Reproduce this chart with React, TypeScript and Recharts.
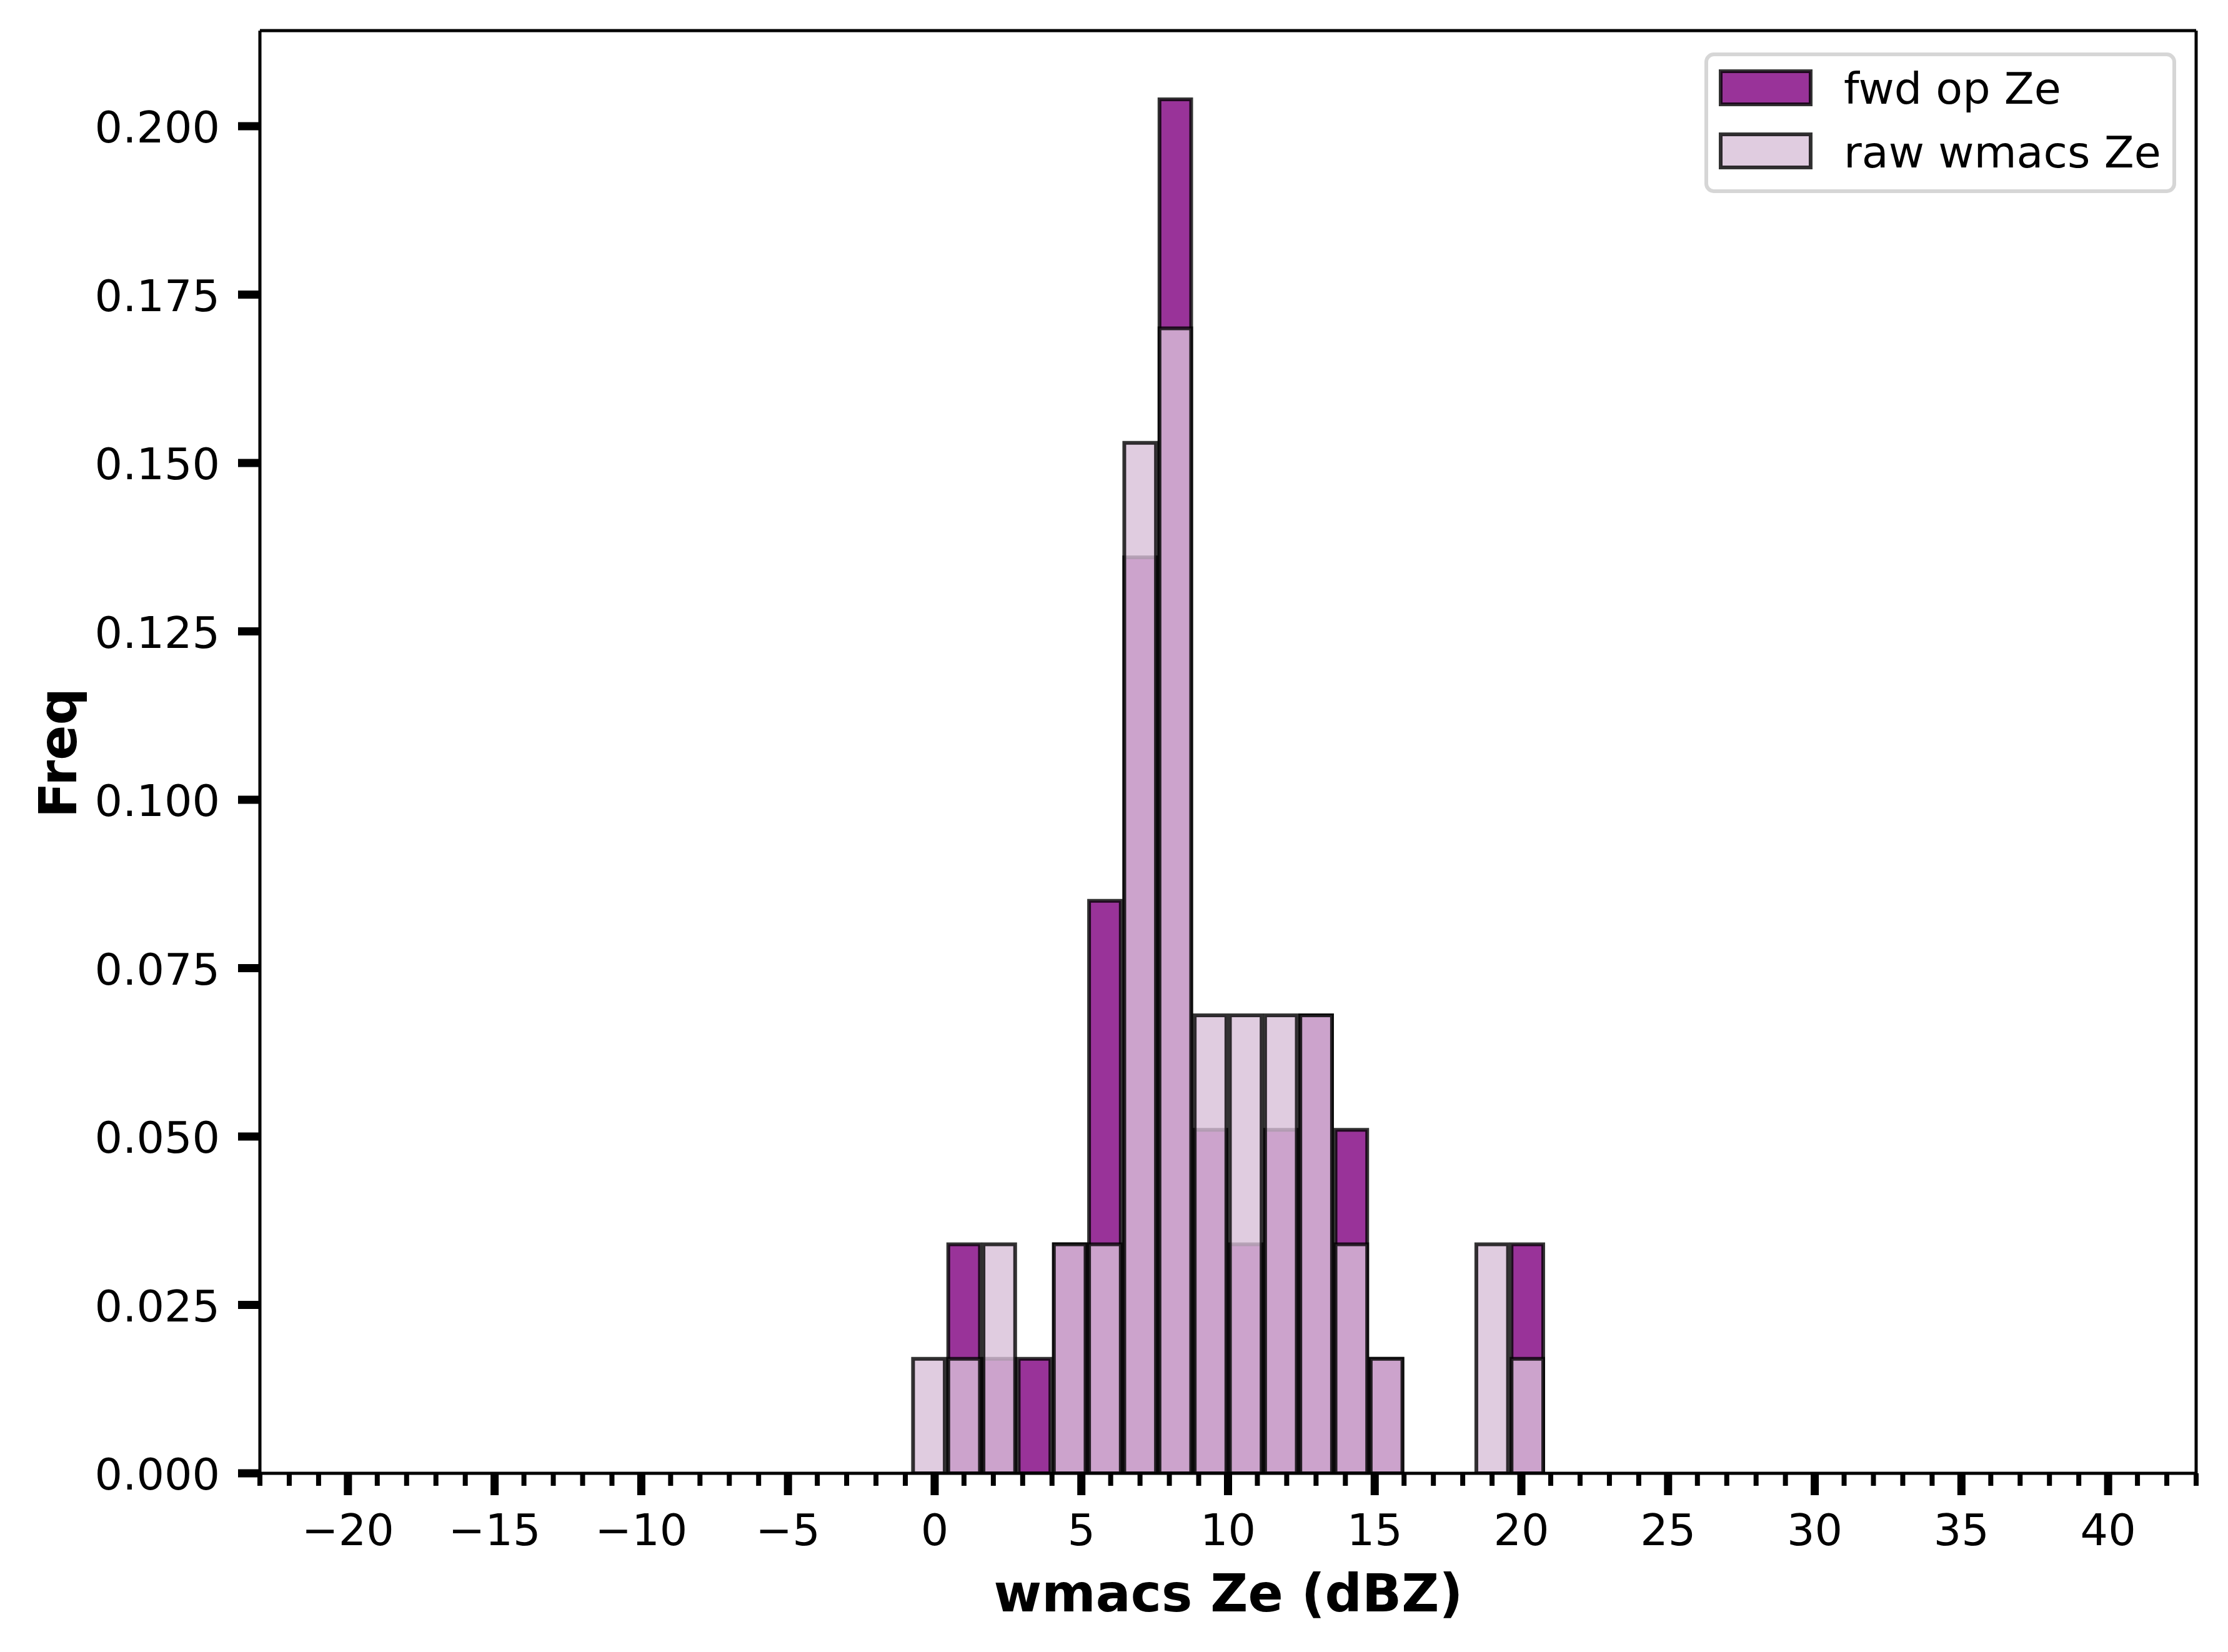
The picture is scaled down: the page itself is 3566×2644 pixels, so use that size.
import { BarChart, Bar, XAxis, YAxis, Legend, Label, ReferenceLine } from "recharts"

// histogram bins (centre of each 1.2 dBZ bin) and normalised frequencies
const BIN_CENTERS = [-0.2, 1.0, 2.2, 3.4, 4.6, 5.8, 7.0, 8.2, 9.4, 10.6, 11.8, 13.0, 14.2, 15.4, 16.6, 17.8, 19.0, 20.2]
const FWD_OP_ZE = [0, 0.034, 0.017, 0.017, 0.034, 0.085, 0.136, 0.204, 0.051, 0.034, 0.051, 0.068, 0.051, 0.017, 0, 0, 0, 0.034]
const RAW_WMACS_ZE = [0.017, 0.017, 0.034, 0, 0.034, 0.034, 0.153, 0.17, 0.068, 0.068, 0.068, 0.068, 0.034, 0.017, 0, 0, 0.034, 0.017]

const X_MAJOR_TICKS = [-20, -15, -10, -5, 0, 5, 10, 15, 20, 25, 30, 35, 40]
const Y_TICKS = [0, 0.025, 0.05, 0.075, 0.1, 0.125, 0.15, 0.175, 0.2]
const X_DOMAIN: [number, number] = [-23, 43]
const Y_DOMAIN: [number, number] = [0, 0.2142]
const BIN_WIDTH = 1.2

const FWD_COLOR = "purple"
const RAW_COLOR = "thistle"
const FONT = "DejaVu Sans"
const EDGE = 6

const W = 3550
const H = 2628
const MARGIN = { top: 41, right: 43, bottom: 0, left: 0 }
const Y_AXIS_W = 408
const X_AXIS_H = 278
const PLOT_W = W - MARGIN.left - MARGIN.right - Y_AXIS_W

const data = BIN_CENTERS.map((x, i) => ({ x, fwd: FWD_OP_ZE[i], raw: RAW_WMACS_ZE[i] }))

const minorTicks: number[] = []
for (let v = X_DOMAIN[0]; v <= X_DOMAIN[1]; v++) minorTicks.push(v)

const fmtX = (v: number) => (v < 0 ? "\u2212" + Math.abs(v) : String(v))

function XTick({ x, y, payload }: any) {
  const v = payload.value
  const major = X_MAJOR_TICKS.includes(v)
  return (
    <g>
      <line x1={x} x2={x} y1={y} y2={y + (major ? 35 : 20)} stroke="#000" strokeWidth={major ? 13 : 8} />
      {major && (
        <text x={x} y={y + 115} textAnchor="middle" fontSize={70} fontFamily={FONT} fill="#000">
          {fmtX(v)}
        </text>
      )}
    </g>
  )
}

function YTick({ x, y, payload }: any) {
  return (
    <g>
      <line x1={x - 35} x2={x} y1={y} y2={y} stroke="#000" strokeWidth={13} />
      <text x={x - 64} y={y} dy={26} textAnchor="end" fontSize={70} fontFamily={FONT} fill="#000">
        {Number(payload.value).toFixed(3)}
      </text>
    </g>
  )
}

function LegendBox({ payload }: any) {
  const fills: Record<string, string> = { fwd: FWD_COLOR, raw: RAW_COLOR }
  return (
    <svg width={755} height={225} style={{ display: "block" }}>
      <rect x={3} y={3} width={749} height={219} rx={12} fill="#fff" fillOpacity={0.8} stroke="#d6d6d6" strokeWidth={6} />
      {(payload || []).map((p: any, i: number) => (
        <g key={p.value}>
          <rect
            x={26}
            y={30 + i * 101}
            width={144}
            height={53}
            fill={fills[p.dataKey] || p.color}
            fillOpacity={0.8}
            stroke="#000"
            strokeOpacity={0.8}
            strokeWidth={EDGE}
          />
          <text x={223} y={82 + i * 102} fontSize={70} fontFamily={FONT} fill="#000">
            {p.value}
          </text>
        </g>
      ))}
    </svg>
  )
}

export default function App() {
  const barSize = (PLOT_W * BIN_WIDTH) / (X_DOMAIN[1] - X_DOMAIN[0])
  return (
    <div style={{ width: W, height: H, fontFamily: FONT }}>
      <BarChart width={W} height={H} data={data} margin={MARGIN} barGap={0} barCategoryGap={0}>
        <Bar
          dataKey="fwd"
          name="fwd op Ze"
          xAxisId="bottom"
          fill={FWD_COLOR}
          fillOpacity={0.8}
          stroke="#000"
          strokeOpacity={0.8}
          strokeWidth={EDGE}
          barSize={barSize}
          isAnimationActive={false}
        />
        <Bar
          dataKey="raw"
          name="raw wmacs Ze"
          xAxisId="top"
          fill={RAW_COLOR}
          fillOpacity={0.8}
          stroke="#000"
          strokeOpacity={0.8}
          strokeWidth={EDGE}
          barSize={barSize}
          isAnimationActive={false}
        />
        <ReferenceLine xAxisId="bottom" y={Y_DOMAIN[1]} stroke="#000" strokeWidth={5} ifOverflow="visible" />
        <ReferenceLine xAxisId="bottom" x={X_DOMAIN[1]} stroke="#000" strokeWidth={5} ifOverflow="visible" />
        <XAxis
          xAxisId="bottom"
          dataKey="x"
          type="number"
          domain={X_DOMAIN}
          ticks={minorTicks}
          interval={0}
          tickSize={0}
          tickMargin={0}
          tickLine={false}
          tick={<XTick />}
          height={X_AXIS_H}
          axisLine={{ stroke: "#000", strokeWidth: 5 }}
          allowDataOverflow
        >
          <Label
            content={() => (
              <text x={1958} y={2571} textAnchor="middle" fontSize={83} fontWeight="bold" fontFamily={FONT} fill="#000">
                wmacs Ze (dBZ)
              </text>
            )}
          />
        </XAxis>
        <XAxis xAxisId="top" dataKey="x" type="number" domain={X_DOMAIN} hide allowDataOverflow />
        <YAxis
          type="number"
          domain={Y_DOMAIN}
          ticks={Y_TICKS}
          interval={0}
          tickSize={0}
          tickMargin={0}
          tickLine={false}
          tick={<YTick />}
          width={Y_AXIS_W}
          axisLine={{ stroke: "#000", strokeWidth: 5 }}
          allowDataOverflow
        >
          <Label
            content={() => (
              <text
                x={114}
                y={1197}
                transform="rotate(-90 114 1197)"
                textAnchor="middle"
                fontSize={83}
                fontWeight="bold"
                fontFamily={FONT}
                fill="#000"
              >
                Freq
              </text>
            )}
          />
        </YAxis>
        <Legend
          layout="horizontal"
          verticalAlign="middle"
          align="center"
          content={<LegendBox />}
          wrapperStyle={{ left: 2720, top: 76, width: 755, height: 225 }}
        />
      </BarChart>
    </div>
  )
}
